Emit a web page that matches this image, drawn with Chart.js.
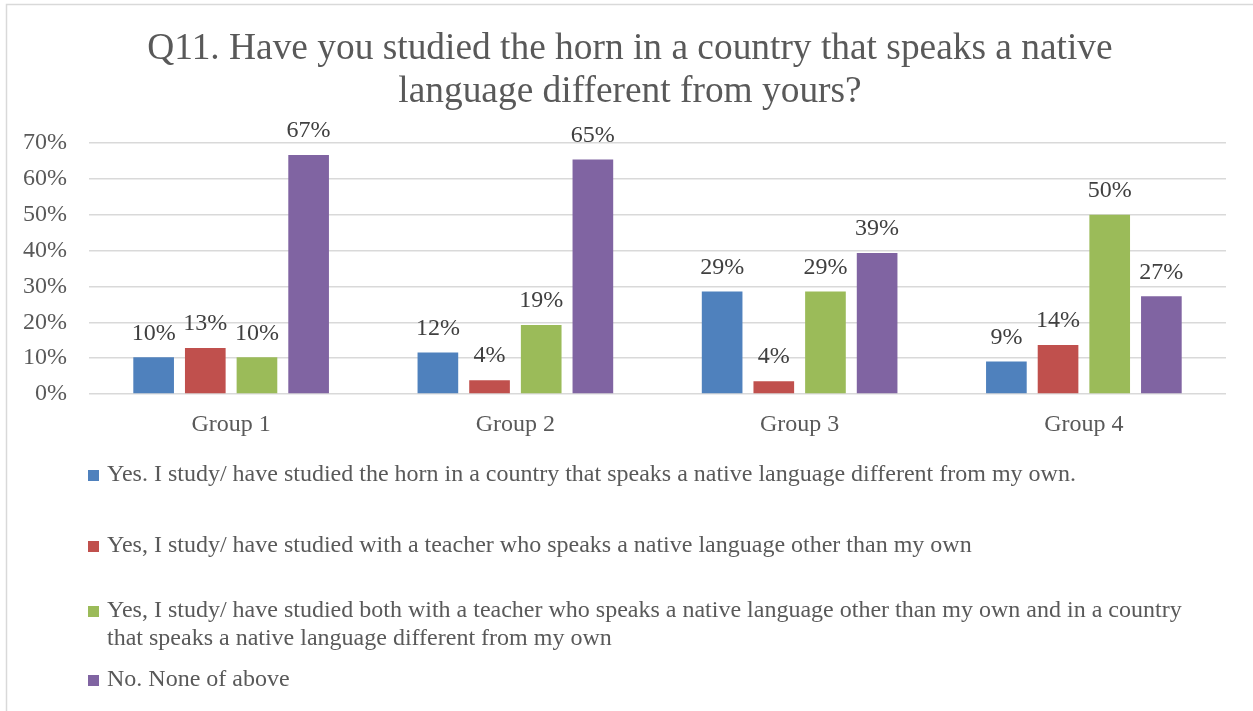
<!DOCTYPE html>
<html lang="en">
<head>
<meta charset="utf-8">
<title>Q11 - Studying the horn abroad</title>
<script src="https://cdn.jsdelivr.net/npm/chart.js@4.4.0/dist/chart.umd.min.js"></script>
<style>
  html, body { margin: 0; padding: 0; background: #fff; }
  canvas { display: block; }
</style>
</head>
<body>
<canvas id="q11Chart" width="1253" height="711"></canvas>
<script>
// ============================================
// Q11 ‚Äî horn study with a foreign language, by group
// ============================================

// === Data (share of answers per group, %)
const groups = ["Group 1", "Group 2", "Group 3", "Group 4"];
const answers = [
  "Yes. I study/ have studied the horn in a country that speaks a native language different from my own.",
  "Yes, I study/ have studied with a teacher who speaks a native language other than my own",
  "Yes, I study/ have studied both with a teacher who speaks a native language other than my own and in a country that speaks a native language different from my own",
  "No. None of above"
];
const abroadOnly = [10.26, 11.54, 28.57, 9.09];
const teacherOnly = [12.82, 3.85, 3.57, 13.64];
const bothAbroadAndTeacher = [10.26, 19.23, 28.57, 50.00];
const noneOfAbove = [66.67, 65.38, 39.29, 27.27];
const yTicks = [0, 10, 20, 30, 40, 50, 60, 70];

const colors = ["#4F81BD", "#C0504D", "#9BBB59", "#8064A2"];
const SERIF = '"Liberation Serif", "Times New Roman", serif';
const TEXT = "#595959";
const FONT_SIZE = 24;

// white background + thin frame (top and left edge)
const framePlugin = {
  id: "frame",
  beforeDraw(chart) {
    const { ctx, width, height } = chart;
    ctx.save();
    ctx.fillStyle = "#fff";
    ctx.fillRect(0, 0, width, height);
    ctx.strokeStyle = "#d9d9d9";
    ctx.lineWidth = 1.5;
    ctx.beginPath();
    ctx.moveTo(6.5, height);
    ctx.lineTo(6.5, 4.5);
    ctx.lineTo(width, 4.5);
    ctx.stroke();
    ctx.restore();
  }
};

// percentage labels above every bar
const valueLabels = {
  id: "valueLabels",
  afterDatasetsDraw(chart) {
    const { ctx } = chart;
    ctx.save();
    ctx.font = FONT_SIZE + "px " + SERIF;
    ctx.fillStyle = "#404040";
    ctx.textAlign = "center";
    ctx.textBaseline = "middle";
    chart.data.datasets.forEach((ds, i) => {
      chart.getDatasetMeta(i).data.forEach((bar, j) => {
        ctx.fillText(Math.round(ds.data[j]) + "%", bar.x, bar.y - 24);
      });
    });
    ctx.restore();
  }
};

// legend below the chart, one answer per row, long answers wrap
const rowsLegend = {
  id: "rowsLegend",
  afterDraw(chart) {
    const { ctx } = chart;
    const rowY = [475, 546, 611, 680];
    const textX = 107, maxRight = 1215, lineGap = 28;
    ctx.save();
    ctx.font = FONT_SIZE + "px " + SERIF;
    ctx.textBaseline = "middle";
    chart.data.datasets.forEach((ds, i) => {
      // simple word wrap
      const lines = [];
      let line = "";
      ds.label.split(" ").forEach(w => {
        const test = line ? line + " " + w : w;
        if (ctx.measureText(test).width > maxRight - textX && line) {
          lines.push(line);
          line = w;
        } else {
          line = test;
        }
      });
      lines.push(line);

      ctx.fillStyle = ds.backgroundColor;
      ctx.fillRect(88, rowY[i] - 5, 11, 11);
      ctx.fillStyle = TEXT;
      lines.forEach((l, k) => ctx.fillText(l, textX, rowY[i] + k * lineGap));
    });
    ctx.restore();
  }
};

const seriesValues = [abroadOnly, teacherOnly, bothAbroadAndTeacher, noneOfAbove];

new Chart(document.getElementById("q11Chart"), {
  type: "bar",
  data: {
    labels: groups,
    datasets: seriesValues.map((values, i) => ({
      label: answers[i],
      data: values,
      backgroundColor: colors[i],
      borderWidth: 0,
      yAxisID: "y",
      categoryPercentage: 0.727,
      barPercentage: 0.787
    }))
  },
  options: {
    responsive: false,
    devicePixelRatio: 1,
    animation: false,
    layout: { padding: { top: 0, left: 7, right: 0, bottom: 257 } },
    plugins: {
      legend: { display: false },
      tooltip: { enabled: false },
      title: {
        display: true,
        text: ["Q11. Have you studied the horn in a country that speaks a native", "language different from yours?"],
        color: TEXT,
        font: { family: SERIF, size: 37.4, weight: "normal", lineHeight: 43 / 37.4 },
        padding: { top: 27.5, bottom: 29.5 }
      }
    },
    scales: {
      x: {
        grid: { display: false },
        border: { display: false },
        ticks: { color: TEXT, font: { family: SERIF, size: FONT_SIZE }, padding: 8 },
        afterFit(scale) { scale.height = 60; }
      },
      y: {
        min: 0,
        max: 70,
        grid: { color: "#d9d9d9", lineWidth: 1.5, drawTicks: false },
        border: { display: false },
        afterBuildTicks(scale) { scale.ticks = yTicks.map(v => ({ value: v })); },
        ticks: {
          color: TEXT,
          font: { family: SERIF, size: FONT_SIZE },
          padding: 22,
          callback: v => v + "%"
        },
        afterFit(scale) { scale.width = 82; }
      },
      // empty strip on the right, keeps the plot clear of the frame edge
      spacer: {
        position: "right",
        display: true,
        grid: { display: false },
        border: { display: false },
        ticks: { display: false },
        afterFit(scale) { scale.width = 27; }
      }
    }
  },
  plugins: [framePlugin, valueLabels, rowsLegend]
});
</script>
</body>
</html>
